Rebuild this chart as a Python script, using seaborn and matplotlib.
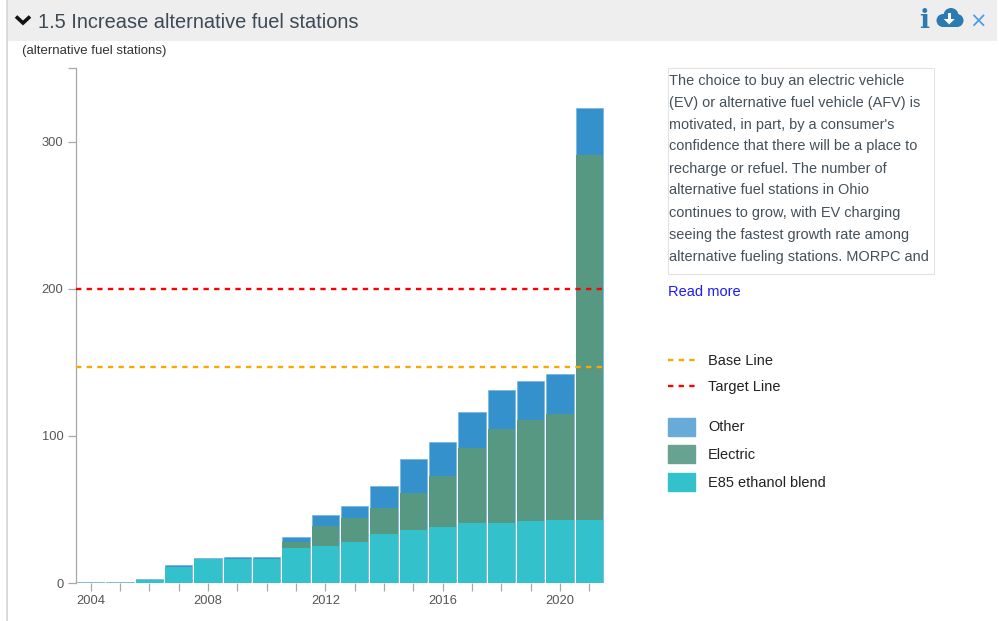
import matplotlib
matplotlib.use("Agg")
import numpy as np
import matplotlib.pyplot as plt
import seaborn as sns
from matplotlib.lines import Line2D
from matplotlib.patches import Rectangle, Patch, Circle, Polygon

years = list(range(2004, 2022))
e85 = [0, 0, 2, 11, 16, 16, 16, 24, 25, 28, 33, 36, 38, 41, 41, 42, 43, 43]
electric = [0, 0, 0, 0, 0, 0, 0, 4, 14, 16, 18, 25, 35, 51, 64, 69, 72, 248]
other = [1, 1, 1, 1, 1, 2, 2, 3, 7, 8, 15, 23, 23, 24, 26, 26, 27, 32]
base_line = 147
target_line = 200
y_ticks = [0, 100, 200, 300, 350]
y_tick_labels = ["0", "100", "200", "300", ""]
title = "1.5 Increase alternative fuel stations"
unit = "(alternative fuel stations)"
body_lines = [
    "The choice to buy an electric vehicle",
    "(EV) or alternative fuel vehicle (AFV) is",
    "motivated, in part, by a consumer's",
    "confidence that there will be a place to",
    "recharge or refuel. The number of",
    "alternative fuel stations in Ohio",
    "continues to grow, with EV charging",
    "seeing the fastest growth rate among",
    "alternative fueling stations. MORPC and",
]

W, H = 999, 621
sns.set_theme(style="white")
plt.rcParams["font.family"] = ["Liberation Sans", "DejaVu Sans"]
fig = plt.figure(figsize=(W / 100, H / 100), dpi=100, facecolor="white")


def fx(px):
    return px / W


def fy(py):
    return 1 - py / H


def ftext(x, y, s, **kw):
    kw.setdefault("va", "center")
    return fig.text(fx(x), fy(y), s, **kw)


# panel chrome, drawn on an overlay whose units are pixels
bg = fig.add_axes([0, 0, 1, 1], zorder=0)
bg.set_xlim(0, W)
bg.set_ylim(H, 0)
bg.axis("off")
bg.add_patch(Rectangle((5.5, 0), 2.5, H, color="#d9d9d9", lw=0))
bg.add_patch(Rectangle((8, 0), 989, 41, color="#eeeeee", lw=0))
bg.add_line(Line2D([16, 23, 30], [16.5, 23, 16.5], color="#111111", lw=2.6,
                   solid_capstyle="butt", solid_joinstyle="miter"))
icon = "#2b7ab0"
for cx, cy, r in [(951, 15.5, 7.5), (943, 20.5, 6.5), (957, 20.5, 6.5)]:
    bg.add_patch(Circle((cx, cy), r, color=icon, lw=0))
bg.add_patch(Rectangle((943, 17), 14, 10, color=icon, lw=0))
bg.add_patch(Rectangle((947.5, 13), 3.5, 7, color="white", lw=0))
bg.add_patch(Polygon([(943.8, 19), (954.7, 19), (949.2, 24.5)], color="white", lw=0))
bg.add_patch(Rectangle((668, 68), 266, 206, facecolor="white", edgecolor="#e2e2e2", lw=0.8))

ftext(38.5, 22, title, fontsize=14.4, color="#3d4a55")
ftext(924.5, 20, "i", fontsize=19, family="DejaVu Serif", weight="bold", color=icon, ha="center")
ftext(978, 22, "\u00d7", fontsize=15, family="DejaVu Sans", color="#4a9be8", ha="center")
ftext(22, 51, unit, fontsize=9.5, color="#333333")

# chart
ax = fig.add_axes([fx(76), fy(583), 528 / W, 515 / H], facecolor="none", zorder=1)
x = np.arange(len(years))
totals = np.array(e85) + np.array(electric) + np.array(other)
mid = np.array(e85) + np.array(electric)
sns.barplot(x=x, y=totals, color="#3591cb", saturation=1, width=0.94, ax=ax, edgecolor="#7db8e0", linewidth=0.6)
sns.barplot(x=x, y=mid, color="#569882", saturation=1, width=0.94, ax=ax, edgecolor="none")
sns.barplot(x=x, y=e85, color="#33c1cc", saturation=1, width=0.94, ax=ax, edgecolor="none")
ax.axhline(base_line, color="#ffa500", lw=1.7, dashes=(2.25, 2.25), zorder=5)
ax.axhline(target_line, color="#ff0000", lw=1.7, dashes=(2.25, 2.25), zorder=5)
ax.set_xlim(-0.5, 17.5)
ax.set_ylim(0, 350)
ax.set_xticks(x)
ax.set_xticklabels([str(y) if (y - 2004) % 4 == 0 else "" for y in years])
ax.set_yticks(y_ticks)
ax.set_yticklabels(y_tick_labels)
ax.set_xlabel("")
ax.set_ylabel("")
ax.tick_params(axis="both", which="major", direction="out", length=6, width=0.9, color="#a8a8a8",
               labelcolor="#555555", labelsize=9.3, bottom=True, left=True, pad=3)
for side in ("top", "right", "bottom"):
    ax.spines[side].set_visible(False)
ax.spines["left"].set_color("#a8a8a8")
ax.spines["left"].set_linewidth(0.9)

# text box
for i, line in enumerate(body_lines):
    ftext(669, 80.5 + 22 * i, line, fontsize=10.45, color="#44505a")
ftext(668, 292.5, "Read more", fontsize=10.5, color="#1a1aff")

# legends
line_handles = [
    Line2D([], [], color="#ffa500", lw=1.7, dashes=(2.25, 2.25)),
    Line2D([], [], color="#ff0000", lw=1.7, dashes=(2.25, 2.25)),
]
leg1 = fig.legend(line_handles, ["Base Line", "Target Line"], loc="upper left",
                  bbox_to_anchor=(fx(668), fy(353.7)), frameon=False, fontsize=10.45, labelcolor="#222222",
                  handlelength=1.87, handletextpad=0.9, labelspacing=0.88, borderpad=0, borderaxespad=0)
patch_handles = [Patch(color="#69abd8"), Patch(color="#68a392"), Patch(color="#33c1cc")]
leg2 = fig.legend(patch_handles, ["Other", "Electric", "E85 ethanol blend"], loc="upper left",
                  bbox_to_anchor=(fx(668), fy(417.5)), frameon=False, fontsize=10.45, labelcolor="#222222",
                  handlelength=1.87, handleheight=1.55, handletextpad=0.9, labelspacing=0.66, borderpad=0,
                  borderaxespad=0)

fig.savefig("out.png", dpi=100)
